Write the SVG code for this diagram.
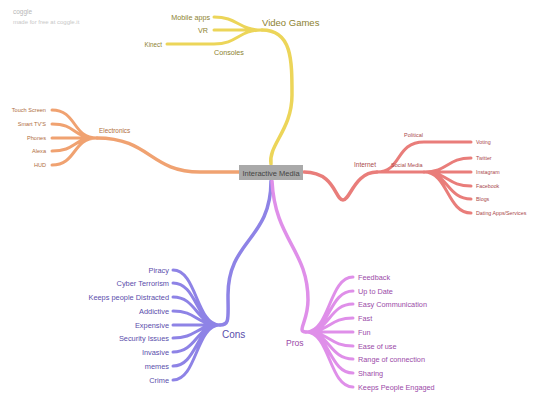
<svg xmlns="http://www.w3.org/2000/svg" width="540" height="407" viewBox="0 0 540 407">
<style>
text{font-family:"Liberation Sans",Arial,sans-serif}
.y{stroke:#ecd559;fill:none;stroke-linecap:round}
.o{stroke:#f0a271;fill:none;stroke-linecap:round}
.r{stroke:#e97d7a;fill:none;stroke-linecap:round}
.p{stroke:#8e83e6;fill:none;stroke-linecap:round}
.k{stroke:#df8fe9;fill:none;stroke-linecap:round}
.ty{fill:#8d8230}
.to{fill:#b06d3d}
.tr{fill:#a9484a}
.tp{fill:#5a4eab}
.tk{fill:#9b4aa8}
</style>
<rect width="540" height="407" fill="#fff"/>
<g id="watermark">
<text x="13" y="14" font-size="6.5" fill="#b8b8b8">coggle</text>
<text x="13" y="24" font-size="6" fill="#c8c8c8">made for free at coggle.it</text>
</g>
<g id="connectors">
<path class="y" stroke-width="3.5" d="M271,164 C268,145 292,130 292,95 C292,60 292,30 262,30"/>
<path class="y" stroke-width="3" d="M262,30 C238,30 238,17 214,17 M262,30 L214,30 M262,30 C238,30 238,44 214,44 L167,44"/>
<path class="o" stroke-width="3.5" d="M239,172 L200,172 C150,172 150,138 97,138"/>
<path class="o" stroke-width="3" d="M97,138 C72,138 77,110 52,110 M97,138 C72,138 77,124 52,124 M97,138 L52,138 M97,138 C72,138 77,151 52,151 M97,138 C72,138 77,165 52,165"/>
<path class="r" stroke-width="3.5" d="M304,172 C335,172 335,200 343,200 C350,200 355,172 377,172"/>
<path class="r" stroke-width="3" d="M377,172 L424,172 M377,172 C402,172 395,142 424,142 L471,142"/>
<path class="r" stroke-width="3" d="M424,172 C448,172 447,158 471,158 M424,172 L471,172 M424,172 C448,172 447,186 471,186 M424,172 C448,172 447,199 471,199 M424,172 C448,172 447,213 471,213"/>
<path class="p" stroke-width="3.5" d="M271,181 C271,240 228,240 228,295 C228,318 230,325 220,325"/>
<path class="p" stroke-width="3" d="M220,325 C196,325 197,270 173,270 M220,325 C196,325 197,283 173,283 M220,325 C196,325 197,297 173,297 M220,325 C196,325 197,311 173,311 M220,325 L173,325 M220,325 C196,325 197,338 173,338 M220,325 C196,325 197,352 173,352 M220,325 C196,325 197,366 173,366 M220,325 C196,325 197,380 173,380"/>
<path class="k" stroke-width="3.5" d="M272,181 C275,240 308,250 308,300 C308,322 296,332 306,332"/>
<path class="k" stroke-width="3" d="M306,332 C330,332 329,277 353,277 M306,332 C330,332 329,291 353,291 M306,332 C330,332 329,304 353,304 M306,332 C330,332 329,318 353,318 M306,332 L353,332 M306,332 C330,332 329,346 353,346 M306,332 C330,332 329,359 353,359 M306,332 C330,332 329,373 353,373 M306,332 C330,332 329,387 353,387"/>
</g>
<g id="center">
<rect x="239" y="165" width="64" height="15" fill="#a9a9a9"/>
<text x="271" y="175.5" font-size="7.5" fill="#444" text-anchor="middle">Interactive Media</text>
</g>
<g id="video-games">
<text class="ty" x="262" y="26" font-size="9.5">Video Games</text>
<text class="ty" x="210" y="20" font-size="7.2" text-anchor="end">Mobile apps</text>
<text class="ty" x="208" y="33" font-size="7.2" text-anchor="end">VR</text>
<text class="ty" x="214" y="55" font-size="7.2">Consoles</text>
<text class="ty" x="162" y="47" font-size="6.3" text-anchor="end">Kinect</text>
</g>
<g id="electronics">
<text class="to" x="99" y="133" font-size="6.4">Electronics</text>
<text class="to" x="46" y="112" font-size="5.6" text-anchor="end">Touch Screen</text>
<text class="to" x="46" y="126" font-size="5.6" text-anchor="end">Smart TV'S</text>
<text class="to" x="46" y="140" font-size="5.6" text-anchor="end">Phones</text>
<text class="to" x="46" y="153" font-size="5.6" text-anchor="end">Alexa</text>
<text class="to" x="46" y="167" font-size="5.6" text-anchor="end">HUD</text>
</g>
<g id="internet">
<text class="tr" x="354" y="167" font-size="6.5">Internet</text>
<text class="tr" x="404" y="137" font-size="5.5">Political</text>
<text class="tr" x="391" y="167" font-size="5.5">Social Media</text>
<text class="tr" x="476" y="144" font-size="5.3">Voting</text>
<text class="tr" x="476" y="160" font-size="5.3">Twitter</text>
<text class="tr" x="476" y="174" font-size="5.3">Instagram</text>
<text class="tr" x="476" y="188" font-size="5.3">Facebook</text>
<text class="tr" x="476" y="201" font-size="5.3">Blogs</text>
<text class="tr" x="476" y="215" font-size="5.3">Dating Apps/Services</text>
</g>
<g id="cons">
<text class="tp" x="222" y="338" font-size="10">Cons</text>
<text class="tp" x="169" y="272.5" font-size="7.4" text-anchor="end">Piracy</text>
<text class="tp" x="169" y="286" font-size="7.4" text-anchor="end">Cyber Terrorism</text>
<text class="tp" x="169" y="300" font-size="7.4" text-anchor="end">Keeps people Distracted</text>
<text class="tp" x="169" y="313.5" font-size="7.4" text-anchor="end">Addictive</text>
<text class="tp" x="169" y="327.5" font-size="7.4" text-anchor="end">Expensive</text>
<text class="tp" x="169" y="341" font-size="7.4" text-anchor="end">Security Issues</text>
<text class="tp" x="169" y="355" font-size="7.4" text-anchor="end">Invasive</text>
<text class="tp" x="169" y="369" font-size="7.4" text-anchor="end">memes</text>
<text class="tp" x="169" y="382.5" font-size="7.4" text-anchor="end">Crime</text>
</g>
<g id="pros">
<text class="tk" x="286" y="346" font-size="8.6">Pros</text>
<text class="tk" x="358" y="279.5" font-size="7.3">Feedback</text>
<text class="tk" x="358" y="293.5" font-size="7.3">Up to Date</text>
<text class="tk" x="358" y="307" font-size="7.3">Easy Communication</text>
<text class="tk" x="358" y="321" font-size="7.3">Fast</text>
<text class="tk" x="358" y="334.5" font-size="7.3">Fun</text>
<text class="tk" x="358" y="348.5" font-size="7.3">Ease of use</text>
<text class="tk" x="358" y="362" font-size="7.3">Range of connection</text>
<text class="tk" x="358" y="376" font-size="7.3">Sharing</text>
<text class="tk" x="358" y="390" font-size="7.3">Keeps People Engaged</text>
</g>
</svg>
